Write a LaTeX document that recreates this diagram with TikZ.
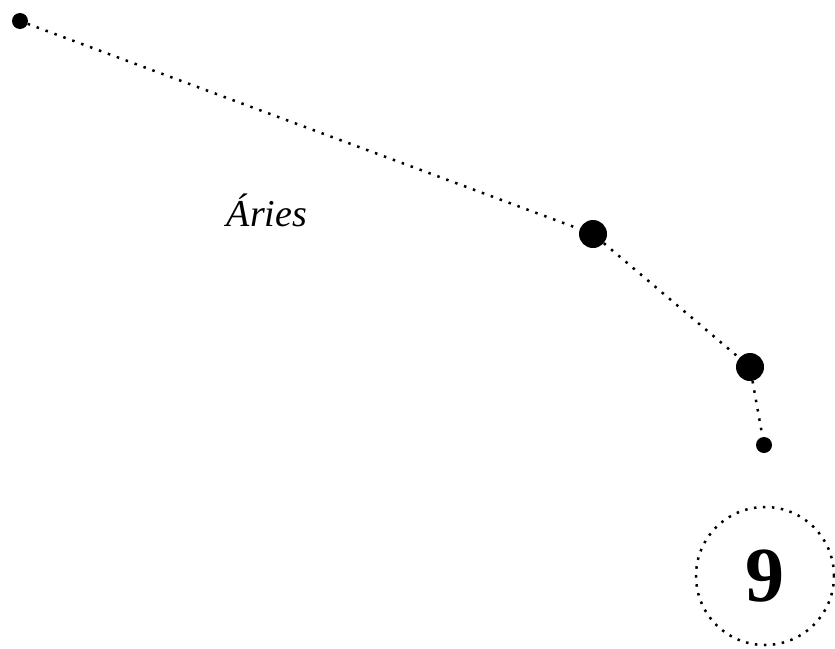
\documentclass[tikz,border=0pt]{standalone}
\usepackage{fontspec}
\setmainfont{Liberation Serif}
\begin{document}
\begin{tikzpicture}[x=1pt,y=-1pt,
  bigstar/.style={circle,fill=black,inner sep=0pt,minimum size=28pt},
  smallstar/.style={circle,fill=black,inner sep=0pt,minimum size=16pt},
  dotline/.style={line width=2.5pt,dash pattern=on 2.5pt off 7pt,black}]
\useasboundingbox (0,0) rectangle (835,648);
\node[smallstar] (s1) at (20,21) {};
\node[bigstar] (s2) at (593,234) {};
\node[bigstar] (s3) at (750,367) {};
\node[smallstar] (s4) at (764,445) {};
\draw[dotline] (s1) -- (s2);
\draw[dotline] (s2) -- (s3);
\draw[dotline] (s3) -- (s4);
\node[font=\fontsize{38}{42}\selectfont\itshape] (lab) at (267,210) {Áries};
\node[circle,draw,dotline,dash pattern=on 2.5pt off 6.5pt,minimum size=138pt,inner sep=0pt,
  font=\fontsize{78}{82}\selectfont\bfseries] (num) at (765,576) {9};
\end{tikzpicture}
\end{document}
